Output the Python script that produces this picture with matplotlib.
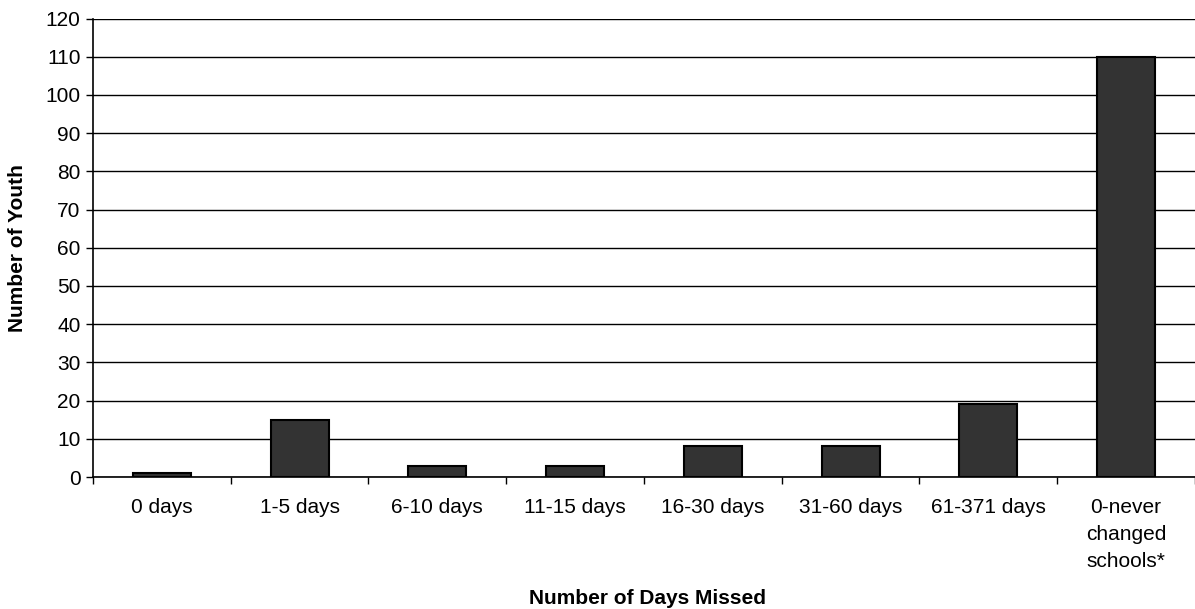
import matplotlib.pyplot as plt
import numpy as np

# Data
categories = ['0 days', '1-5 days', '6-10 days', '11-15 days', '16-30 days',
              '31-60 days', '61-371 days', '0-never\nchanged\nschools*']
youth = [1, 15, 3, 3, 8, 8, 19, 110]
y_ticks = list(range(0, 130, 10))

plt.rcParams['font.family'] = ['Liberation Sans', 'DejaVu Sans']

fig = plt.figure(figsize=(11.95, 6.09), dpi=100)
ax = fig.add_axes([0.0778, 0.2167, 0.9222, 0.7529])

x = np.arange(len(categories))
ax.bar(x, youth, width=0.42, color='#333333', edgecolor='black', linewidth=1.5, zorder=3)

# horizontal gridlines
ax.set_ylim(0, 120)
ax.set_yticks(y_ticks)
ax.yaxis.grid(True, color='black', linewidth=1.0)
ax.set_axisbelow(True)

# category labels on minor ticks, tick marks on boundaries
ax.set_xlim(-0.5, len(categories) - 0.5)
ax.set_xticks(np.arange(-0.5, len(categories), 1.0))
ax.set_xticklabels([])
ax.set_xticks(x, minor=True)
ax.set_xticklabels(categories, minor=True, fontsize=15, linespacing=1.55, va='top')
ax.tick_params(axis='x', which='minor', length=0, pad=15)
ax.tick_params(axis='x', which='major', length=5, width=1, direction='out')
ax.tick_params(axis='y', length=5, width=1, direction='out', labelsize=15, pad=4)

for side in ['top', 'right']:
    ax.spines[side].set_visible(False)
ax.spines['left'].set_linewidth(1.2)
ax.spines['bottom'].set_linewidth(1.2)

fig.text(0.542, 0.0082, 'Number of Days Missed', ha='center', va='baseline',
         fontsize=15, fontweight='bold')
fig.text(0.0146, 0.593, 'Number of Youth', ha='center', va='center',
         rotation=90, fontsize=15, fontweight='bold')

fig.savefig('out.png', dpi=100)
